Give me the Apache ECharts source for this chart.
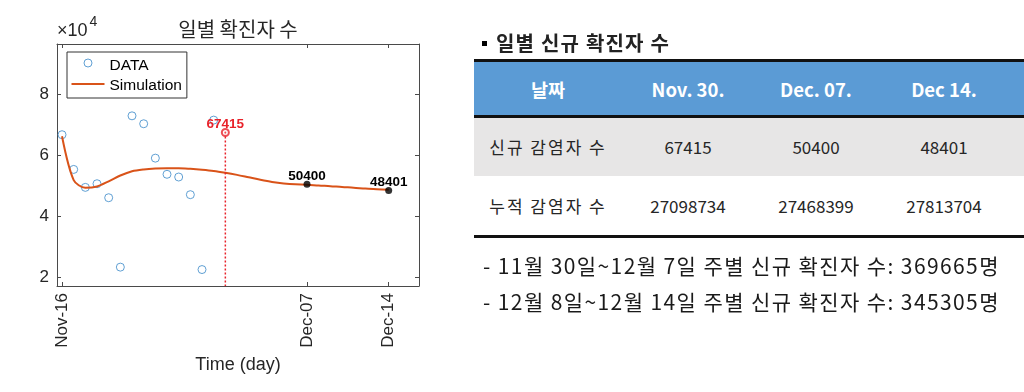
<!DOCTYPE html>
<html>
<head>
<meta charset="utf-8">
<script src="https://cdn.jsdelivr.net/npm/echarts@6/dist/echarts.min.js"></script>
<style>
html,body{margin:0;padding:0;background:#fff;}
#chart{position:absolute;left:0;top:0;width:1024px;height:392px;}
#panel{position:absolute;left:0;top:0;width:1024px;height:392px;font-family:'Noto Sans CJK KR',sans-serif;color:#222;}
#tblTitle{position:absolute;left:482px;top:29px;font-weight:bold;font-size:20px;letter-spacing:1.2px;line-height:28px;white-space:nowrap;}
#tblTitle .sq{display:inline-block;width:5px;height:5px;background:#000;vertical-align:middle;margin-right:9px;position:relative;top:-2px;}
#tbl{position:absolute;left:474px;top:59px;border-collapse:collapse;table-layout:fixed;}
#tbl td{padding:0;text-align:center;white-space:nowrap;}
#tbl tr.h{background:#5B9BD5;height:56px;border-top:3px solid #111;border-bottom:3px solid #111;}
#tbl tr.h td{color:#fff;font-weight:bold;font-size:18.5px;}
#tbl tr.r1{background:#E7E6E6;height:59px;}
#tbl tr.r2{background:#fff;height:61px;border-bottom:3px solid #111;}
#tbl tr.r1 td,#tbl tr.r2 td{font-size:17px;color:#262626;}
#tbl tr.r1 td:first-child,#tbl tr.r2 td:first-child{letter-spacing:2px;}
.note{position:absolute;left:483px;font-size:21px;letter-spacing:1.4px;line-height:28px;white-space:nowrap;color:#1a1a1a;}
</style>
</head>
<body>
<div id="chart"></div>
<div id="panel"></div>
<script>
// ---- chart data ----
const dataDays   = [0, 1, 2, 3, 4, 5, 6, 7, 8, 9, 10, 11, 12, 13];
const dataValues = [66700, 55300, 49400, 50600, 46000, 23200, 72900, 70300, 59000, 53700, 52800, 47000, 22400, 71500];
const simDays    = [0, 1, 2, 3, 4, 5, 6, 7, 8, 9, 10, 11, 12, 13, 14, 15, 16, 17, 18, 19, 20, 21, 22, 23, 24, 25, 26, 27, 28];
const simValues  = [66200, 51800, 49300, 49700, 51400, 53300, 54700, 55300, 55600, 55700, 55700, 55500, 55200, 54800, 54200,
                    53500, 52700, 51900, 51200, 50700, 50400, 50300, 50000, 49800, 49500, 49300, 49000, 48800, 48600];
const markDay    = 14;
const markValue  = 67415;
const endDays    = [21, 28];
const endValues  = [50400, 48401];
const xTickDays   = [0, 21, 28];
const xTickLabels = ['Nov-16', 'Dec-07', 'Dec-14'];
const yTicks      = [20000, 40000, 60000, 80000];
const yTickLabels = ['2', '4', '6', '8'];
const xMin = -0.43, xMax = 30.6, yMin = 17000, yMax = 96500;

// ---- table data ----
const panelTitle = '일별 신규 확진자 수';
const tableHeader = ['날짜', 'Nov. 30.', 'Dec. 07.', 'Dec 14.'];
const rowNew = ['신규 감염자 수', '67415', '50400', '48401'];
const rowCum = ['누적 감염자 수', '27098734', '27468399', '27813704'];
const notes = ['- 11월 30일~12월 7일 주별 신규 확진자 수: 369665명',
               '- 12월 8일~12월 14일 주별 신규 확진자 수: 345305명'];

// ---- build panel ----
const panel = document.getElementById('panel');
const t = document.createElement('div');
t.id = 'tblTitle';
t.innerHTML = '<span class="sq"></span>' + panelTitle;
panel.appendChild(t);
const colW = [148, 132, 124, 132, 14];
let html = '<colgroup>' + colW.map(w => '<col style="width:' + w + 'px">').join('') + '</colgroup>';
const mkRow = (cls, arr) => '<tr class="' + cls + '">' + arr.map(s => '<td>' + s + '</td>').join('') + '<td></td></tr>';
html += mkRow('h', tableHeader) + mkRow('r1', rowNew) + mkRow('r2', rowCum);
const tbl = document.createElement('table');
tbl.id = 'tbl';
tbl.style.width = colW.reduce((a, b) => a + b, 0) + 'px';
tbl.innerHTML = html;
panel.appendChild(tbl);
const noteTops = [251, 287];
notes.forEach((n, i) => {
  const d = document.createElement('div');
  d.className = 'note';
  d.style.top = noteTops[i] + 'px';
  d.textContent = n;
  panel.appendChild(d);
});

// ---- chart ----
const chart = echarts.init(document.getElementById('chart'), null, {renderer: 'canvas'});
const axisColor = '#4a4a4a';
const tickFont = {fontFamily: 'Liberation Sans', fontSize: 17, color: '#262626'};
const zipPts = (xs, ys) => xs.map((x, i) => [x, ys[i]]);
const labelBase = {fontFamily: 'Liberation Sans', fontWeight: 'bold', fontSize: 13.5, opacity: 1, textBorderWidth: 0};

const option = {
  animation: false,
  title: {
    text: '일별 확진자 수', left: 238, top: 19, textAlign: 'center', padding: 0,
    textStyle: {fontFamily: 'Noto Sans CJK KR', fontSize: 20, fontWeight: 'normal', color: '#262626'}
  },
  graphic: [
    {type: 'text', x: 57, y: 31, style: {text: '×10', fontFamily: 'Liberation Sans', fontSize: 18, fill: '#262626', verticalAlign: 'middle'}},
    {type: 'text', x: 89.5, y: 22, style: {text: '4', fontFamily: 'Liberation Sans', fontSize: 14, fill: '#262626', verticalAlign: 'middle'}}
  ],
  legend: {
    left: 67, top: 52, orient: 'vertical', selectedMode: false,
    backgroundColor: '#fff', borderColor: '#333', borderWidth: 1, borderRadius: 0,
    padding: [6, 5, 4, 4], itemGap: 4, itemWidth: 33, itemHeight: 14,
    textStyle: {fontFamily: 'Liberation Sans', fontSize: 15.5, color: '#000'},
    data: [
      {name: 'DATA', icon: 'path://M0,0M33,14M12.5,4a4,4 0 1,0 8,0a4,4 0 1,0 -8,0',
       itemStyle: {color: 'rgba(0,0,0,0)', borderColor: '#3a88c8', borderWidth: 1}},
      {name: 'Simulation', icon: 'path://M0,0M33,14M0,4H33V6H0Z',
       itemStyle: {color: '#D95319', borderWidth: 0}}
    ]
  },
  grid: {left: 57, right: 605, top: 44, bottom: 106, containLabel: false},
  xAxis: [
    {
      type: 'value', min: xMin, max: xMax, position: 'bottom',
      name: 'Time (day)', nameLocation: 'middle', nameGap: 70,
      nameTextStyle: {fontFamily: 'Liberation Sans', fontSize: 18, color: '#262626'},
      axisLine: {show: true, onZero: false, lineStyle: {color: axisColor, width: 1}},
      axisTick: {show: true, inside: true, length: 4, customValues: xTickDays, lineStyle: {color: axisColor}},
      axisLabel: Object.assign({show: true, rotate: 90, margin: 7, customValues: xTickDays,
        formatter: v => xTickLabels[xTickDays.indexOf(v)] || ''}, tickFont),
      splitLine: {show: false}
    },
    {
      type: 'value', min: xMin, max: xMax, position: 'top',
      axisLine: {show: true, onZero: false, lineStyle: {color: axisColor, width: 1}},
      axisTick: {show: true, inside: true, length: 4, customValues: xTickDays, lineStyle: {color: axisColor}},
      axisLabel: {show: false}, splitLine: {show: false}
    }
  ],
  yAxis: [
    {
      type: 'value', min: yMin, max: yMax, position: 'left',
      axisLine: {show: true, onZero: false, lineStyle: {color: axisColor, width: 1}},
      axisTick: {show: true, inside: true, length: 4, customValues: yTicks, lineStyle: {color: axisColor}},
      axisLabel: Object.assign({show: true, margin: 8, customValues: yTicks,
        formatter: v => yTickLabels[yTicks.indexOf(v)] || ''}, tickFont),
      splitLine: {show: false}
    },
    {
      type: 'value', min: yMin, max: yMax, position: 'right',
      axisLine: {show: true, onZero: false, lineStyle: {color: axisColor, width: 1}},
      axisTick: {show: true, inside: true, length: 4, customValues: yTicks, lineStyle: {color: axisColor}},
      axisLabel: {show: false}, splitLine: {show: false}
    }
  ],
  series: [
    {
      name: 'DATA', type: 'scatter', symbol: 'circle', symbolSize: 8, z: 2,
      itemStyle: {color: 'rgba(0,0,0,0)', borderColor: '#3a88c8', borderWidth: 1},
      data: zipPts(dataDays, dataValues)
    },
    {
      name: 'Simulation', type: 'line', symbol: 'none', smooth: 0.3, z: 3,
      lineStyle: {color: '#D95319', width: 2}, itemStyle: {color: '#D95319'},
      data: zipPts(simDays, simValues)
    },
    {
      name: 'mark-line', type: 'line', symbol: 'none', z: 4,
      lineStyle: {color: '#e8222a', width: 1.5, type: [2, 2]},
      data: [[markDay, markValue], [markDay, yMin]]
    },
    {
      name: 'mark', type: 'scatter', symbol: 'emptyCircle', symbolSize: 7, z: 5,
      itemStyle: {color: '#e8222a', borderColor: '#e8222a', borderWidth: 1},
      label: Object.assign({show: true, position: 'top', distance: -3, formatter: p => String(p.value[1]), color: '#e8222a'}, labelBase),
      data: [[markDay, markValue]]
    },
    {
      name: 'mark-dot', type: 'scatter', symbol: 'circle', symbolSize: 2, z: 6,
      itemStyle: {color: '#e8222a'},
      data: [[markDay, markValue]]
    },
    {
      name: 'ends', type: 'scatter', symbol: 'circle', symbolSize: 7, z: 5,
      itemStyle: {color: '#000'},
      label: Object.assign({show: true, position: 'top', distance: -2.5, formatter: p => String(p.value[1]), color: '#000'}, labelBase),
      data: zipPts(endDays, endValues)
    }
  ]
};
chart.setOption(option);
</script>
</body>
</html>
